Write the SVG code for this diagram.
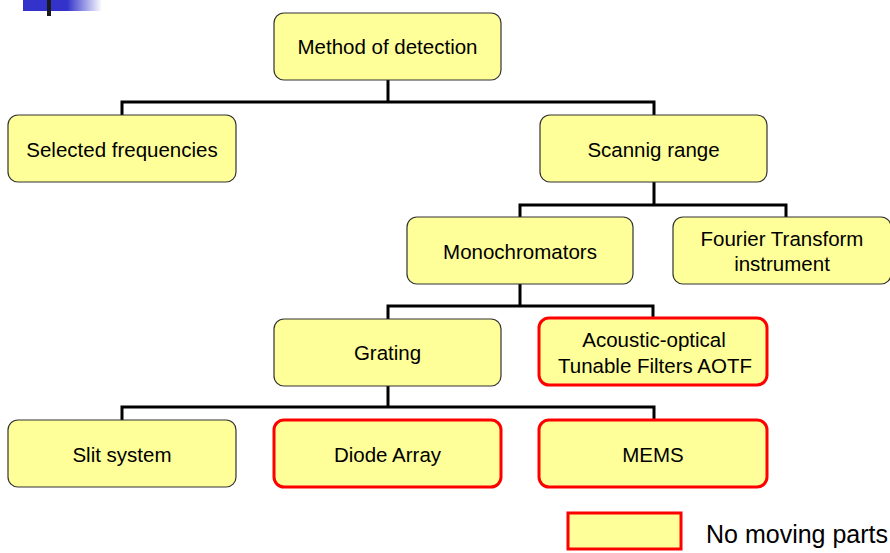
<svg xmlns="http://www.w3.org/2000/svg" width="890" height="553" viewBox="0 0 890 553">
<style>
.n{fill:#FFFF99;stroke:#333333;stroke-width:1.2}
.r{fill:#FFFF99;stroke:#FF0000;stroke-width:3}
.t{font-family:"Liberation Sans",Arial,sans-serif;font-size:20.5px;fill:#000;text-anchor:middle}
.c{fill:none;stroke:#000;stroke-width:3}
</style>
<defs>
<linearGradient id="g" x1="0" y1="0" x2="1" y2="0">
<stop offset="0" stop-color="#3333CC"/>
<stop offset="1" stop-color="#3333CC" stop-opacity="0"/>
</linearGradient>
</defs>
<g id="deco">
<rect x="23" y="0" width="45" height="11" fill="#3333CC"/>
<rect x="67" y="0" width="35" height="11" fill="url(#g)"/>
<rect x="47" y="0" width="4" height="16" fill="#1a1a1a"/>
</g>
<g id="connectors">
<path class="c" d="M388 80V102M122 115V102H654V115"/>
<path class="c" d="M654 182V205M520 217V205H786V217"/>
<path class="c" d="M520 284V306M388 319V306H653V317"/>
<path class="c" d="M388 386V407M122 420V407H654V419"/>
</g>
<g id="method"><rect class="n" x="274" y="13" width="227" height="67" rx="10"/><text class="t" x="387.5" y="54">Method of detection</text></g>
<g id="selected"><rect class="n" x="8" y="115" width="228" height="67" rx="10"/><text class="t" x="122" y="156.5">Selected frequencies</text></g>
<g id="scanning"><rect class="n" x="540" y="115" width="227" height="67" rx="10"/><text class="t" x="653.5" y="156.5">Scannig range</text></g>
<g id="mono"><rect class="n" x="407" y="217" width="226" height="67" rx="10"/><text class="t" x="520" y="258.5">Monochromators</text></g>
<g id="fourier"><rect class="n" x="673" y="217" width="218" height="67" rx="10"/><text class="t" x="782" y="246">Fourier Transform</text><text class="t" x="782" y="271">instrument</text></g>
<g id="grating"><rect class="n" x="274" y="319" width="227" height="67" rx="10"/><text class="t" x="387.5" y="360">Grating</text></g>
<g id="aotf"><rect class="r" x="539" y="318" width="228" height="67" rx="10"/><text class="t" x="654" y="347">Acoustic-optical</text><text class="t" x="655" y="373">Tunable Filters AOTF</text></g>
<g id="slit"><rect class="n" x="8" y="420" width="228" height="67" rx="10"/><text class="t" x="122" y="461.5">Slit system</text></g>
<g id="diode"><rect class="r" x="274" y="420" width="227" height="67" rx="10"/><text class="t" x="387.5" y="461.5">Diode Array</text></g>
<g id="mems"><rect class="r" x="539" y="420" width="228" height="67" rx="10"/><text class="t" x="653" y="461.5">MEMS</text></g>
<g id="legend"><rect class="r" x="568" y="513" width="113" height="36" stroke-width="2.5"/><text x="706" y="543" style="font-family:'Liberation Sans',Arial,sans-serif;font-size:25px;fill:#000">No moving parts</text></g>
</svg>
